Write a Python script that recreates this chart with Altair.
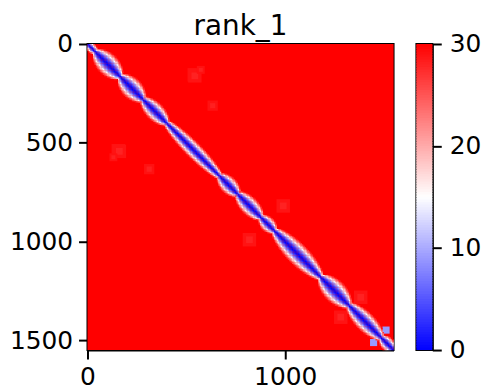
import altair as alt
import numpy as np
import pandas as pd

# ---- values ----
TITLE = "rank_1"
N = 1548                      # matrix size (residues)
X_TICKS = [0, 1000]
Y_TICKS = [0, 500, 1000, 1500]
CBAR_TICKS = [0, 10, 20, 30]
VMIN, VMAX = 0, 30

# positions along the diagonal where the blue band pinches (domain borders)
BOUNDS = [0, 40, 166, 281, 400, 668, 760, 878, 945, 1179, 1322, 1486, 1548]
# half-width (in residues) at which the band reaches full red, per domain
PEAK_W = [34, 80, 76, 66, 58, 62, 66, 54, 78, 82, 70, 50]
PINCH_W = 22
SHARPNESS = 1.45

# faint off-diagonal patches: centre x, centre y, half size, value
PATCH_X = [156, 543, 633, 819, 1382, 131, 1447, 166, 141]
PATCH_Y = [540, 161, 312, 990, 1281, 573, 1510, 149, 166]
PATCH_S = [34, 34, 26, 34, 34, 20, 18, 7, 7]
PATCH_V = [28.9, 28.9, 29.0, 28.9, 28.9, 29.0, 9, 6, 6]

NBINS = 220

# ---- build tables ----
step = N / NBINS


def width_at(m):
    for a, b, w in zip(BOUNDS[:-1], BOUNDS[1:], PEAK_W):
        if a <= m <= b:
            t = (m - a) / (b - a)
            return PINCH_W + (w - PINCH_W) * np.sin(np.pi * t) ** 0.6
    return PINCH_W


band = []
K = int(max(PEAK_W) / step) + 2
for i in range(NBINS):
    for j in range(max(0, i - K), min(NBINS, i + K + 1)):
        d = abs(i - j) * step
        m = (i + j + 1) / 2 * step
        v = VMAX * min(1.0, d / width_at(m)) ** SHARPNESS
        if v < 29.6:
            band.append(dict(x0=i * step, x1=(i + 1) * step + 0.8,
                             y0=j * step, y1=(j + 1) * step + 0.8, v=v))
band = pd.DataFrame(band)

patches = []
for cx, cy, s, v in zip(PATCH_X, PATCH_Y, PATCH_S, PATCH_V):
    for (px, py) in [(cx, cy), (cy, cx)]:
        patches.append(dict(x0=px - s, x1=px + s, y0=py - s, y1=py + s, v=v))
        if v > 20:
            h = s / 2
            patches.append(dict(x0=px - h, x1=px + h, y0=py - h, y1=py + h,
                                v=v - 0.9))
patches = pd.DataFrame(patches)

bg = pd.DataFrame([dict(x0=0, x1=N, y0=0, y1=N, v=VMAX)])

color_scale = alt.Scale(domain=[0, 15, 30],
                        range=["#0000ff", "#ffffff", "#ff0000"],
                        interpolate="rgb", clamp=True)

xs = alt.Scale(domain=[0, N], nice=False, zero=False)
ys = alt.Scale(domain=[0, N], nice=False, zero=False, reverse=True)

x_enc = alt.X("x0:Q", scale=xs, title=None,
              axis=alt.Axis(values=X_TICKS, labelPadding=6, format="d",
                            labelFlush=False))
y_enc = alt.Y("y0:Q", scale=ys, title=None,
              axis=alt.Axis(values=Y_TICKS, labelPadding=6, format="d",
                            labelFlush=False))


def layer(df):
    return alt.Chart(df).mark_rect(strokeWidth=0).encode(
        x=x_enc, x2="x1:Q", y=y_enc, y2="y1:Q",
        color=alt.Color("v:Q", scale=color_scale, legend=None),
    )


heat = alt.layer(layer(bg), layer(patches), layer(band)).properties(
    width=308, height=308,
    title=alt.TitleParams(TITLE, fontSize=28, font="DejaVu Sans",
                          fontWeight="normal", anchor="middle",
                          frame="group", offset=-9, color="black"),
)

levels = np.arange(VMIN, VMAX, 0.25)
cb = pd.DataFrame(dict(lo=levels, hi=levels + 0.4, v=levels + 0.125))
cbar = alt.Chart(cb).mark_rect(strokeWidth=0).encode(
    x=alt.value(0), x2=alt.value(16),
    y=alt.Y("lo:Q", scale=alt.Scale(domain=[VMIN, VMAX], nice=False, clamp=True),
            title=None,
            axis=alt.Axis(orient="right", values=CBAR_TICKS, labelPadding=8,
                          format="d", labelFlush=False)),
    y2="hi:Q",
    color=alt.Color("v:Q", scale=color_scale, legend=None),
).properties(width=16, height=308)

chart = alt.hconcat(heat, cbar, spacing=20).properties(
    padding={"left": 0, "top": 3, "right": 0, "bottom": 0},
).configure_view(
    stroke="black", strokeWidth=2,
).configure_axis(
    grid=False, domainColor="black", domainWidth=2,
    tickColor="black", tickWidth=2, tickSize=9,
    labelFont="DejaVu Sans", labelFontSize=25, labelColor="black",
).configure_concat(spacing=20)

chart.save("out.html", embed_options={"renderer": "svg", "actions": False})
